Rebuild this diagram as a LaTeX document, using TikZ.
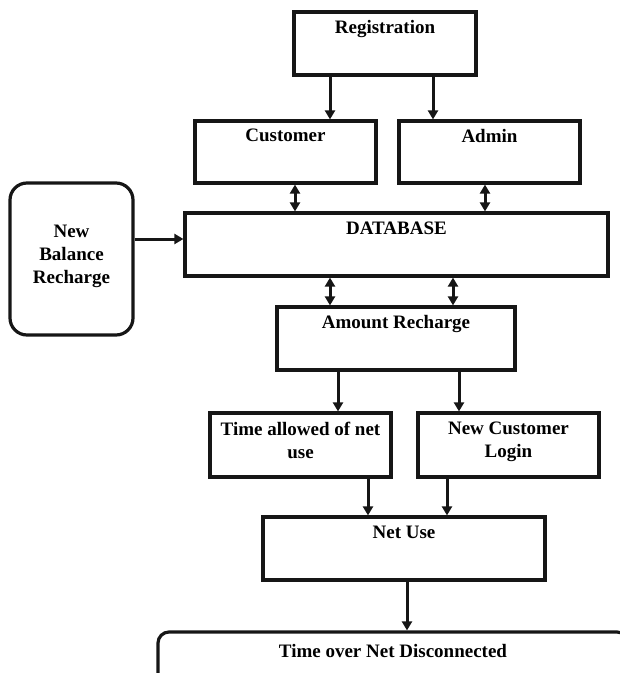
\documentclass[tikz,border=0pt]{standalone}
\usepackage{fontspec}
\setmainfont{Liberation Serif}
\usetikzlibrary{arrows.meta}
\definecolor{flowink}{RGB}{22,22,22}

\begin{document}
\begin{tikzpicture}[x=1pt, y=-1pt, line join=miter,
   font=\bfseries\fontsize{19}{23}\selectfont,
   blk/.style={draw=flowink, line width=3.2pt, align=center, inner sep=0pt, text depth=10pt},
   rblk/.style={blk, rounded corners=17pt},
   arr/.style={draw=flowink, line width=3pt, -{Triangle[length=9pt,width=10pt]}},
   darr/.style={arr, {Triangle[length=9pt,width=10pt]}-{Triangle[length=9pt,width=10pt]}}]
   \clip (0,0) rectangle (620,673); % page of the reference, bottom box runs off it

   % boxes (text sits on the first of two lines)
   \node[blk, minimum width=182, minimum height=63] (reg) at (385,43.5) {Registration\\ \mbox{}};
   \node[blk, minimum width=181, minimum height=62] (cust) at (285.5,152) {Customer\\ \mbox{}};
   \node[blk, minimum width=181, minimum height=62] (admin) at (489.5,152) {Admin\\ \mbox{}};
   \node[blk, minimum width=423, minimum height=63] (db) at (396.5,244.5) {DATABASE\\ \mbox{}};
   \node[rblk, minimum width=123, minimum height=152] (nbr) at (71.5,259) {New\\Balance\\Recharge};
   \node[blk, minimum width=238, minimum height=63] (amt) at (396,338.5) {Amount Recharge\\ \mbox{}};
   \node[blk, minimum width=181, minimum height=64] (tnet) at (300.5,445) {Time allowed of net\\use};
   \node[blk, minimum width=181, minimum height=64] (ncl) at (508.5,445) {New Customer\\Login};
   \node[blk, minimum width=282, minimum height=63] (net) at (404,548.5) {Net Use\\ \mbox{}};
   \node[blk, rounded corners=11pt, text depth=0pt, minimum width=470, minimum height=61] (disc) at (393,662.5) {Time over Net Disconnected\\ \mbox{}};

   % connectors
   \draw[arr] (330,0 |- reg.south) -- (330,0 |- cust.north);
   \draw[arr] (433,0 |- reg.south) -- (433,0 |- admin.north);
   \draw[darr] (295,0 |- cust.south) -- (295,0 |- db.north);
   \draw[darr] (485,0 |- admin.south) -- (485,0 |- db.north);
   \draw[arr] (nbr.east |- 0,239) -- (db.west |- 0,239);
   \draw[darr] (330,0 |- db.south) -- (330,0 |- amt.north);
   \draw[darr] (453,0 |- db.south) -- (453,0 |- amt.north);
   \draw[arr] (338,0 |- amt.south) -- (338,0 |- tnet.north);
   \draw[arr] (459,0 |- amt.south) -- (459,0 |- ncl.north);
   \draw[arr] (368,0 |- tnet.south) -- (368,0 |- net.north);
   \draw[arr] (447,0 |- ncl.south) -- (447,0 |- net.north);
   \draw[arr] (407,0 |- net.south) -- (407,0 |- disc.north);
\end{tikzpicture}
\end{document}
